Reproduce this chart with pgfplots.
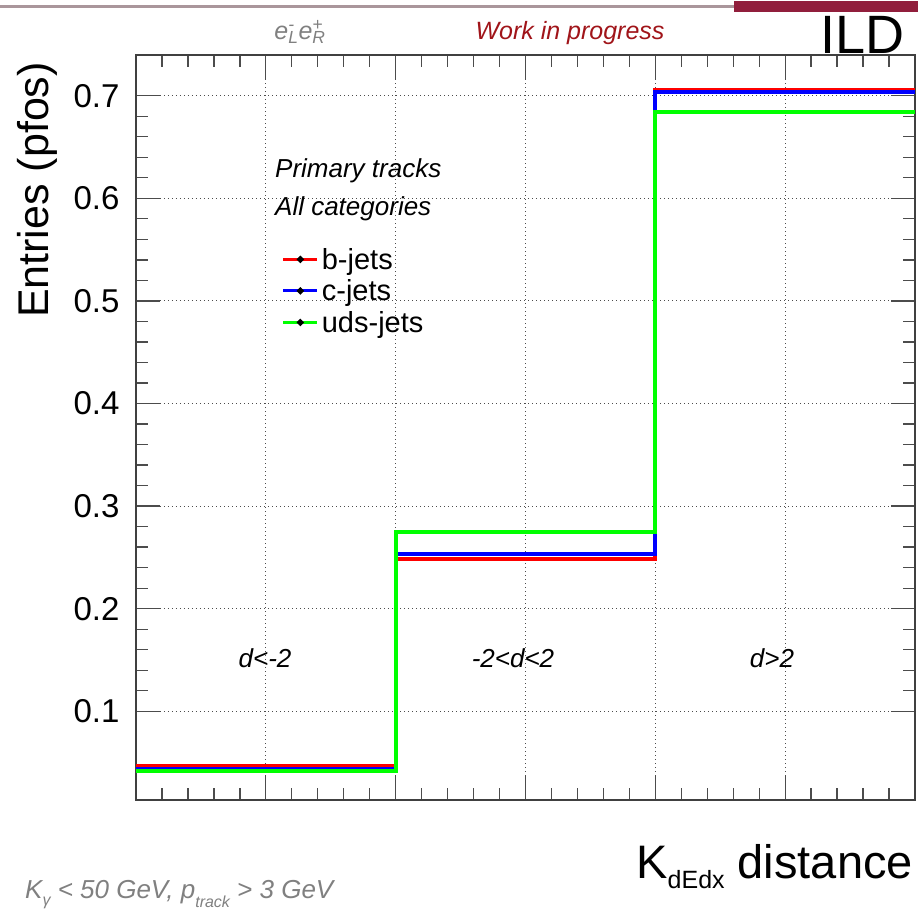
\documentclass[border=0pt]{standalone}
\usepackage{fontspec}
\setmainfont{Liberation Sans}
\usepackage{pgfplots}
\pgfplotsset{compat=1.18}
\definecolor{ildmaroon}{RGB}{145,30,60}
\definecolor{wipred}{RGB}{160,20,25}
\definecolor{headgray}{RGB}{170,150,155}
\newcommand{\fs}[1]{\fontsize{#1}{#1}\selectfont}

\begin{document}
\begin{tikzpicture}
\path[use as bounding box] (-136pt,-118pt) rectangle (782pt,800pt);

% header bar
\draw[headgray, line width=3pt] (-136pt,793pt) -- (598pt,793pt);
\fill[ildmaroon] (598pt,788pt) rectangle (782pt,799pt);

\begin{axis}[
    at={(0pt,0pt)}, anchor=south west,
    scale only axis,
    width=779pt, height=745pt,
    xmin=0, xmax=3,
    ymin=0.0135, ymax=0.7397,
    xtick={0,0.5,...,3},
    xticklabels={},
    ytick={0.1,0.2,...,0.7},
    minor x tick num=4,
    minor y tick num=4,
    tick align=inside,
    major tick length=24pt,
    minor tick length=12pt,
    tick style={black!70, line width=1.3pt},
    axis line style={black!75, line width=1.5pt},
    grid=major,
    major grid style={black!70, line width=0.9pt, dash pattern=on 1.2pt off 2.8pt},
    yticklabel style={font=\fs{33}, xshift=-13pt},
    /pgf/number format/assume math mode=true,
    /pgf/number format/fixed,
    /pgf/number format/precision=1,
    legend style={at={(0.187,0.745)}, anchor=north west, draw=none, fill=none,
        font=\fs{29}, row sep=3pt, inner sep=0pt,
        nodes={inner sep=3pt}},
    legend cell align=left,
    legend image code/.code={
        \draw[#1, line width=3pt] (-8pt,0pt) -- (26pt,0pt);
        \fill[black] (9pt,0pt) circle (1pt);
    },
]
\addplot[const plot, red, line width=4pt] coordinates {
    (0,0.0466) (1,0.2480) (2,0.7056) (3,0.7056)
};
\addlegendentry{b-jets}
\addplot[const plot, blue, line width=4pt] coordinates {
    (0,0.0436) (1,0.2529) (2,0.7033) (3,0.7033)
};
\addlegendentry{c-jets}
\addplot[const plot, green, line width=4pt] coordinates {
    (0,0.0417) (1,0.2747) (2,0.6838) (3,0.6838)
};
\addlegendentry{uds-jets}
\end{axis}

% texts
\node[anchor=base east, font=\fs{54}, inner sep=0pt] at (769pt,746pt) {ILD};
\node[anchor=base, font=\fs{25}\itshape, text=wipred, inner sep=0pt] at (434pt,760pt) {Work in progress};
\node[anchor=base, font=\fs{25}\itshape, text=black!50, inner sep=0pt] at (164pt,760pt)
    {e\rlap{\textsuperscript{-}}\textsubscript{L}e\rlap{\textsuperscript{+}}\textsubscript{R}};
\node[anchor=base east, rotate=90, font=\fs{43}, inner sep=0pt] at (-87pt,738pt) {Entries (pfos)};
\node[anchor=base east, font=\fs{47}, inner sep=0pt] at (777pt,-78pt)
    {K\raisebox{-10pt}{\fs{25}dEdx} distance};
\node[anchor=base west, font=\fs{26}\itshape, text=black!50, inner sep=0pt] at (-111pt,-98pt)
    {K\raisebox{-7pt}{\fs{16}γ} < 50 GeV, p\raisebox{-9pt}{\fs{16}track} > 3 GeV};
\node[anchor=base west, font=\fs{26}\itshape, inner sep=0pt] at (139pt,622pt) {Primary tracks};
\node[anchor=base west, font=\fs{26}\itshape, inner sep=0pt] at (139pt,584pt) {All categories};
\node[anchor=base, font=\fs{26}\itshape, inner sep=0pt] at (129pt,132pt) {d<-2};
\node[anchor=base, font=\fs{26}\itshape, inner sep=0pt] at (377pt,132pt) {-2<d<2};
\node[anchor=base, font=\fs{26}\itshape, inner sep=0pt] at (636pt,132pt) {d>2};
\end{tikzpicture}
\end{document}
